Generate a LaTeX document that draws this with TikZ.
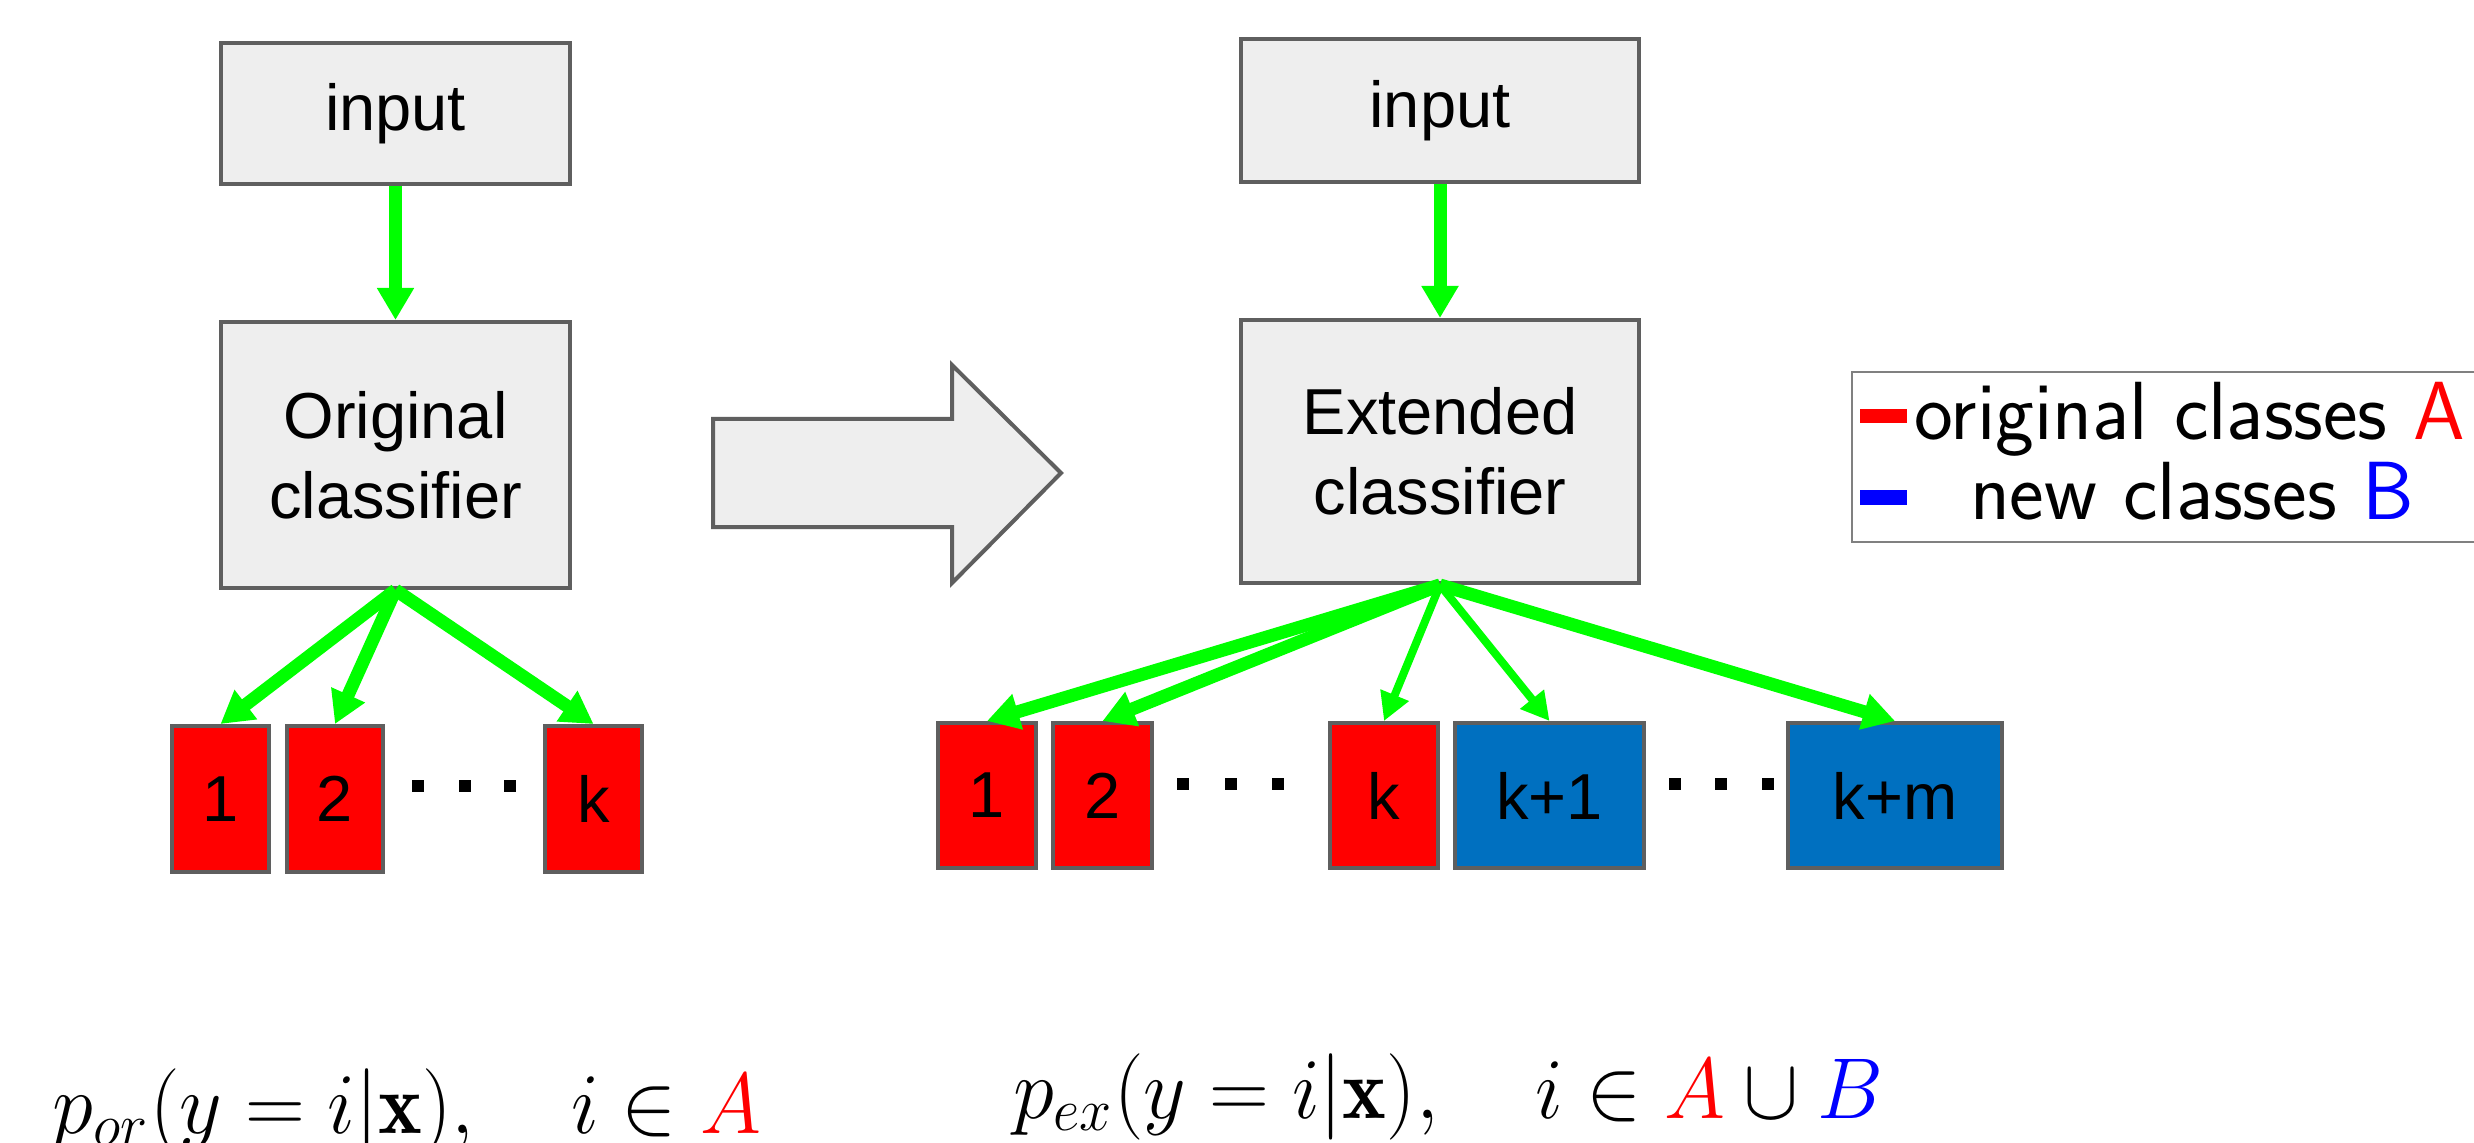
\documentclass[tikz,border=0pt]{standalone}
\usepackage{fontspec}
\usepackage{amsmath}
\usepackage{graphicx}
\usetikzlibrary{arrows.meta}
\newfontfamily\boxfont{Liberation Sans}

\definecolor{boxgray}{HTML}{EEEEEE}
\definecolor{edgegray}{HTML}{5F5F5F}
\definecolor{linkgreen}{HTML}{00FF00}
\definecolor{clsred}{HTML}{FF0000}
\definecolor{clsblue}{HTML}{0070C0}
\definecolor{legred}{HTML}{FF0000}
\definecolor{legblue}{HTML}{0000FF}

\tikzset{
  graybox/.style={draw=edgegray, fill=boxgray, line width=0.8pt, inner sep=0pt,
    font=\boxfont\fontsize{13}{16}\selectfont, align=center},
  redbox/.style={draw=edgegray, fill=clsred, line width=0.8pt, inner sep=0pt,
    font=\boxfont\fontsize{13}{16}\selectfont, minimum height=29.2pt},
  bluebox/.style={draw=edgegray, fill=clsblue, line width=0.8pt, inner sep=0pt,
    font=\boxfont\fontsize{13}{16}\selectfont, minimum height=29pt},
  dotmark/.style={fill=black, inner sep=0pt, minimum size=2.4pt},
  thicklink/.style={draw=linkgreen, line width=2.6pt,
    -{Triangle[length=6.4pt,width=7pt]}},
  thinlink/.style={draw=linkgreen, line width=1.6pt,
    -{Triangle[length=5.6pt,width=5.8pt]}},
  legtext/.style={anchor=base west, inner sep=0pt,
    font=\sffamily\fontsize{16.5}{20}\selectfont},
  formula/.style={anchor=base west, inner sep=0pt,
    font=\fontsize{17.28}{21}\selectfont},
}

\begin{document}
\begin{tikzpicture}[x=0.2pt, y=-0.2pt]
  % canvas
  \fill[white] (0,0) rectangle (2474,1143);
  \useasboundingbox (0,0) rectangle (2474,1143);

  % ---- original classifier ----
  \node[graybox, minimum width=69.8pt, minimum height=28.2pt] (in1) at (395.5,113.5) {input};
  \node[graybox, minimum width=69.8pt, minimum height=53.2pt] (cls1) at (395.5,455) {Original\\classifier};

  \node[redbox, minimum width=19.4pt] (a1) at (220.5,799) {1};
  \node[redbox, minimum width=19.2pt] (a2) at (335,799) {2};
  \node[redbox, minimum width=19.4pt] (ak) at (593.5,799) {k};
  \node[dotmark] (ad1) at (418,786) {};
  \node[dotmark] (ad2) at (465,786) {};
  \node[dotmark] (ad3) at (510,786) {};

  \draw[thicklink] (in1.south) -- (cls1.north);
  \draw[thicklink] (cls1.south) -- (a1.north);
  \draw[thicklink] (cls1.south) -- (a2.north);
  \draw[thicklink] (cls1.south) -- (ak.north);

  % ---- transition arrow ----
  \draw[draw=edgegray, fill=boxgray, line width=0.8pt, line join=miter]
    (713,419) -- (952,419) -- (952,365) -- (1061,473) -- (952,583) -- (952,527) -- (713,527) -- cycle;

  % ---- extended classifier ----
  \node[graybox, minimum width=79.6pt, minimum height=28.6pt] (in2) at (1440,110.5) {input};
  \node[graybox, minimum width=79.6pt, minimum height=52.6pt] (cls2) at (1440,451.5) {Extended\\classifier};

  \node[redbox, minimum width=19.6pt, minimum height=29pt] (b1) at (987,795.5) {1};
  \node[redbox, minimum width=19.8pt, minimum height=29pt] (b2) at (1102.5,795.5) {2};
  \node[redbox, minimum width=21.6pt, minimum height=29pt] (bk) at (1384,795.5) {k};
  \node[bluebox, minimum width=37.8pt] (bk1) at (1549.5,795.5) {k+1};
  \node[bluebox, minimum width=42.8pt] (bkm) at (1895,795.5) {k+m};
  \node[dotmark] (bd1) at (1183,784) {};
  \node[dotmark] (bd2) at (1231,784) {};
  \node[dotmark] (bd3) at (1278,784) {};
  \node[dotmark] (bd4) at (1675,784) {};
  \node[dotmark] (bd5) at (1721,784) {};
  \node[dotmark] (bd6) at (1768,784) {};

  \draw[thicklink] (in2.south) -- (cls2.north);
  \draw[thicklink] (cls2.south) -- (b1.north);
  \draw[thicklink] (cls2.south) -- (b2.north);
  \draw[thinlink] (cls2.south) -- (bk.north);
  \draw[thinlink] (cls2.south) -- (bk1.north);
  \draw[thicklink] (cls2.south) -- (bkm.north);

  % ---- legend ----
  \draw[draw=gray, line width=0.4pt] (1852,372) rectangle (2490,542);
  \fill[legred] (1860,409) rectangle (1907,423);
  \fill[legblue] (1860,490) rectangle (1907,505);
  \node[legtext] (leg1) at (1913,440) {original classes \textcolor{legred}{A}};
  \node[legtext] (leg2) at (1969,520) {new classes \textcolor{legblue}{B}};

  % ---- output distributions ----
  \node[formula] (f1) at (52,1133) {\scalebox{0.96}[1]{$p_{or}(y = i|\mathbf{x}),\quad i \in \textcolor{legred}{A}$}};
  \node[formula] (f2) at (1012,1118) {\scalebox{0.96}[1]{$p_{ex}(y = i|\mathbf{x}),\quad i \in \textcolor{legred}{A} \cup \textcolor{legblue}{B}$}};
\end{tikzpicture}
\end{document}
